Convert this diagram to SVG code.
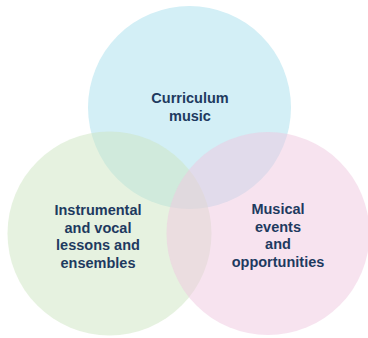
<svg xmlns="http://www.w3.org/2000/svg" width="368" height="338" viewBox="0 0 368 338">
<style>
.c{stroke:none}
.t{font-family:"Liberation Sans",Arial,sans-serif;font-weight:bold;font-size:14.5px;fill:#1e3a5f;text-anchor:middle}
</style>
<rect width="368" height="338" fill="#ffffff"/>
<g id="curriculum">
<circle class="c" cx="189.5" cy="107.5" r="101.5" fill="#d3eff6"/>
</g>
<g id="instrumental">
<circle class="c" cx="109.5" cy="233.5" r="102" fill="#cde5c1" fill-opacity="0.5"/>
</g>
<g id="events">
<circle class="c" cx="268" cy="233.5" r="101.5" fill="#efc7df" fill-opacity="0.5"/>
</g>
<g id="labels">
<text class="t" x="190" y="103">Curriculum</text>
<text class="t" x="190" y="120.5">music</text>
<text class="t" x="98" y="215">Instrumental</text>
<text class="t" x="98" y="232.5">and vocal</text>
<text class="t" x="98" y="250">lessons and</text>
<text class="t" x="98" y="267.5">ensembles</text>
<text class="t" x="278" y="214">Musical</text>
<text class="t" x="278" y="231.5">events</text>
<text class="t" x="278" y="249">and</text>
<text class="t" x="278" y="266.5">opportunities</text>
</g>
</svg>
